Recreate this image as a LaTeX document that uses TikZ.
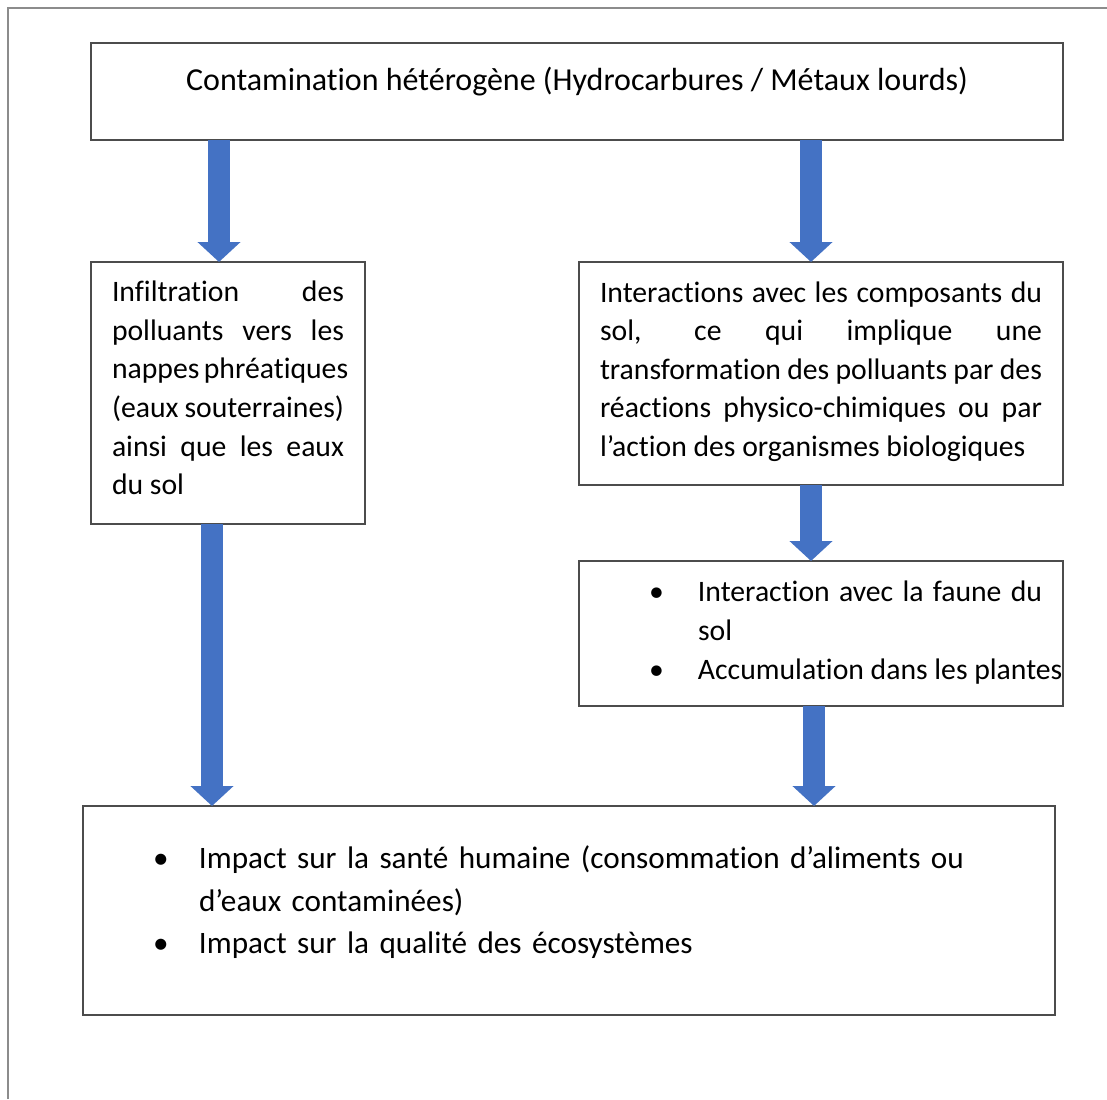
\documentclass[tikz,border=0pt]{standalone}
\usepackage{fontspec}
\setmainfont{Carlito}[Ligatures={NoCommon}]
\usepackage{xcolor}
\usetikzlibrary{positioning,arrows.meta}

\definecolor{bleuoffice}{HTML}{4472C4}
\setlength{\parindent}{0pt}
\hbadness=10000
\hfuzz=60pt
\hyphenpenalty=10000
\exhyphenpenalty=10000
% puce: retrait de la puce, retrait du texte
\newcommand{\puce}[2]{\par\hangindent=#2\hangafter=1\noindent\makebox[#2][l]{\hspace*{#1}\textbullet}}

\begin{document}
\begin{tikzpicture}[
        x=1pt, y=1pt,
        boite/.style={rectangle, draw=black!70, fill=white, line width=1.3pt, outer sep=0pt, inner xsep=21pt, inner ysep=0pt, font=\fontsize{29.7}{38.6}\selectfont},
        titreboite/.style={boite, minimum width=972pt, minimum height=97pt, text height=30pt, text depth=32pt, font=\fontsize{32}{40}\selectfont},
        texteboite/.style={boite, align=justify},
        fleche/.style={draw=bleuoffice, line width=22pt, -{Triangle[width=42pt, length=20pt]}},
        cadre/.style={draw=black!45, line width=1.5pt}
    ]
    \useasboundingbox (0,0) rectangle (1107,-1099);

    % Cadre de la page
    \draw [cadre] (8,-1099) -- (8,-8) -- (1107,-8);

    % Source de contamination
    \node [titreboite] (titre) at (577,-91.5) {Contamination hétérogène (Hydrocarbures / Métaux lourds)};

    % Voie de gauche
    \node [texteboite, text width=232pt, minimum width=274pt, minimum height=262pt, below right=122pt and 0pt of titre.south west] (infil)
        {Infiltration des\linebreak polluants vers les\linebreak nappes phréatiques\linebreak (eaux souterraines)\linebreak ainsi que les eaux\linebreak du sol\par\kern10pt};

    % Voie de droite
    \node [texteboite, text width=442pt, minimum width=484pt, minimum height=223pt, below left=122pt and 0pt of titre.south east] (interact)
        {Interactions avec les composants du\linebreak sol, ce qui implique une\linebreak transformation des polluants par des\linebreak réactions physico-chimiques ou par\linebreak l’action des organismes biologiques\par\kern4pt};

    \node [texteboite, text width=442pt, minimum width=484pt, minimum height=145pt, below=76pt of interact] (faune)
        {\puce{49pt}{98pt}Interaction avec la faune du\linebreak sol
         \puce{49pt}{98pt}\mbox{Accumulation dans les plantes}\par\kern20pt};

    % Impacts
    \node [boite, align=left, text width=930pt, minimum width=972pt, minimum height=209pt,
        font=\fontsize{31.2}{42.5}\selectfont, below left=100pt and 8pt of faune.south east] (impact)
        {\puce{49pt}{95pt}Impact sur la santé humaine (consommation d’aliments ou\newline d’eaux contaminées)
         \puce{49pt}{95pt}Impact sur la qualité des écosystèmes\par\kern36pt};

    % Fleches
    \path [fleche] ([xshift=-9pt]infil.north |- titre.south) -- ([xshift=-9pt]infil.north);
    \path [fleche] ([xshift=-10pt]interact.north |- titre.south) -- ([xshift=-10pt]interact.north);
    \path [fleche] ([xshift=-10pt]interact.south) -- ([xshift=-10pt]faune.north);
    \path [fleche] ([xshift=-7pt]faune.south) -- ([xshift=-7pt]faune.south |- impact.north);
    \path [fleche] ([xshift=-16pt]infil.south) -- ([xshift=-16pt]infil.south |- impact.north);

\end{tikzpicture}
\end{document}
